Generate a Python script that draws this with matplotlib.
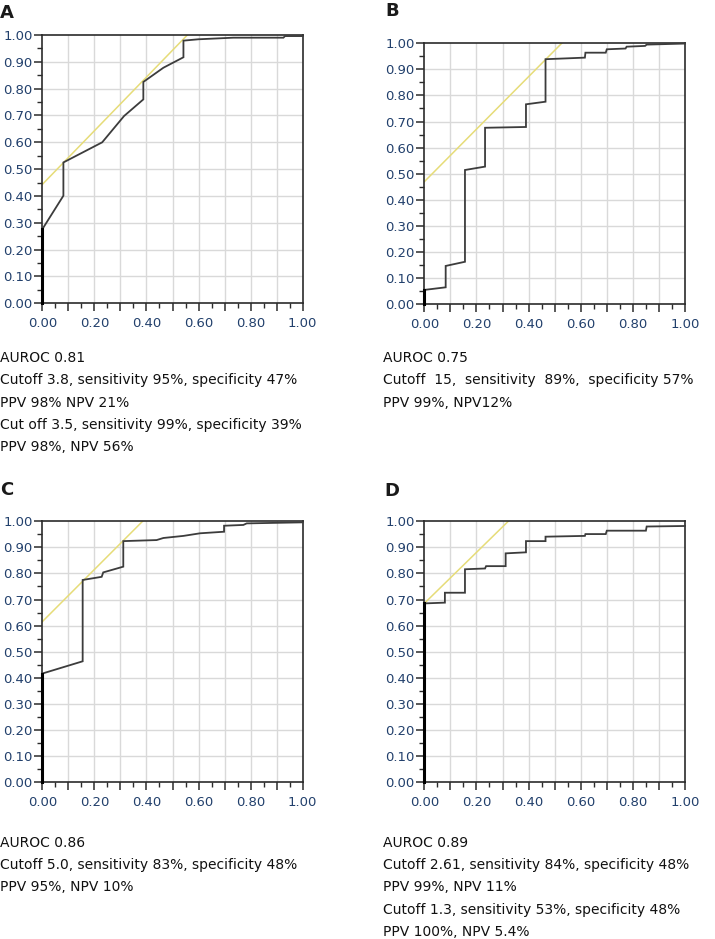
import matplotlib
matplotlib.use("Agg")
import matplotlib.pyplot as plt
from matplotlib.ticker import MultipleLocator

W, H = 715, 939

# --- ROC curves (1 - specificity, sensitivity) ------------------------------
fpr_a = [0.0, 0.0, 0.081, 0.081, 0.230, 0.314, 0.388, 0.388, 0.465, 0.542, 0.542, 0.599, 0.734, 0.926, 0.932, 1.0]
tpr_a = [0.0, 0.276, 0.401, 0.525, 0.600, 0.698, 0.760, 0.825, 0.878, 0.917, 0.979, 0.984, 0.990, 0.990, 0.996, 0.996]

fpr_b = [0.0, 0.0, 0.082, 0.082, 0.156, 0.156, 0.233, 0.233, 0.390, 0.390, 0.465, 0.465,
         0.616, 0.618, 0.696, 0.700, 0.772, 0.776, 0.847, 0.853, 1.0]
tpr_b = [0.0, 0.054, 0.064, 0.146, 0.162, 0.514, 0.527, 0.676, 0.679, 0.766, 0.776, 0.939,
         0.945, 0.964, 0.964, 0.977, 0.980, 0.987, 0.990, 0.995, 0.999]

fpr_c = [0.0, 0.0, 0.155, 0.155, 0.228, 0.234, 0.311, 0.311, 0.439, 0.465, 0.542, 0.606,
         0.698, 0.698, 0.772, 0.785, 1.0]
tpr_c = [0.0, 0.416, 0.463, 0.775, 0.787, 0.804, 0.826, 0.924, 0.928, 0.936, 0.944, 0.954,
         0.960, 0.983, 0.986, 0.992, 0.996]

fpr_d = [0.0, 0.0, 0.079, 0.079, 0.156, 0.156, 0.233, 0.237, 0.312, 0.312, 0.390, 0.390,
         0.465, 0.465, 0.616, 0.618, 0.696, 0.700, 0.850, 0.853, 1.0]
tpr_d = [0.0, 0.685, 0.688, 0.726, 0.726, 0.816, 0.819, 0.828, 0.828, 0.877, 0.881, 0.924,
         0.924, 0.941, 0.944, 0.951, 0.951, 0.964, 0.964, 0.980, 0.982]

# Youden tangent lines (yellow): x and y end points
tan_a = ([0.0, 0.557], [0.443, 1.0])
tan_b = ([0.0, 0.527], [0.469, 1.0])
tan_c = ([0.0, 0.385], [0.615, 1.0])
tan_d = ([0.0, 0.322], [0.685, 1.0])

notes_a = ["AUROC 0.81",
           "Cutoff 3.8, sensitivity 95%, specificity 47%",
           "PPV 98% NPV 21%",
           "Cut off 3.5, sensitivity 99%, specificity 39%",
           "PPV 98%, NPV 56%"]
notes_b = ["AUROC 0.75",
           "Cutoff  15,  sensitivity  89%,  specificity 57%",
           "PPV 99%, NPV12%"]
notes_c = ["AUROC 0.86",
           "Cutoff 5.0, sensitivity 83%, specificity 48%",
           "PPV 95%, NPV 10%"]
notes_d = ["AUROC 0.89",
           "Cutoff 2.61, sensitivity 84%, specificity 48%",
           "PPV 99%, NPV 11%",
           "Cutoff 1.3, sensitivity 53%, specificity 48%",
           "PPV 100%, NPV 5.4%"]

grid_ticks = [0.0, 0.1, 0.2, 0.3, 0.4, 0.5, 0.6, 0.7, 0.8, 0.9, 1.0]
x_ticklabels = ["0.00", "", "0.20", "", "0.40", "", "0.60", "", "0.80", "", "1.00"]
y_ticklabels = ["%.2f" % v for v in grid_ticks]

CURVE = "#3c3c3c"
YELLOW = "#e6dc78"
GRID = "#d9d9d9"
SPINE = "#2b2b2b"
TICKTXT = "#22406c"


def px_rect(left, top, right, bottom):
    return [left / W, 1 - bottom / H, (right - left) / W, (bottom - top) / H]


def draw_panel(fig, rect, fpr, tpr, tan):
    ax = fig.add_axes(rect)
    ax.set_xlim(0, 1)
    ax.set_ylim(0, 1)

    # grid every 0.1
    for v in grid_ticks[1:-1]:
        ax.axhline(v, color=GRID, lw=1.0, zorder=0)
        ax.axvline(v, color=GRID, lw=1.0, zorder=0)

    ax.plot(tan[0], tan[1], color=YELLOW, lw=1.1, zorder=2)
    ax.plot(fpr, tpr, color=CURVE, lw=1.3, zorder=3, clip_on=False,
            solid_joinstyle="miter")
    ax.plot([0, 0], [0, tpr[1]], color="black", lw=2.2, zorder=4, clip_on=False)

    ax.set_xticks(grid_ticks)
    ax.set_xticklabels(x_ticklabels)
    ax.xaxis.set_minor_locator(MultipleLocator(0.05))
    ax.set_yticks(grid_ticks)
    ax.set_yticklabels(y_ticklabels)
    ax.yaxis.set_minor_locator(MultipleLocator(0.05))

    ax.tick_params(axis="both", which="major", length=6, width=1.1, color=SPINE,
                   labelsize=9.5, labelcolor=TICKTXT)
    ax.tick_params(axis="x", which="major", pad=4)
    ax.tick_params(axis="y", which="major", pad=1)
    ax.tick_params(axis="both", which="minor", length=3.5, width=1.0, color=SPINE)
    for s in ax.spines.values():
        s.set_color(SPINE)
        s.set_linewidth(1.2)
    return ax


def write_notes(fig, x, y0, lines, step=22.3):
    for i, line in enumerate(lines):
        fig.text(x / W, 1 - (y0 + i * step) / H, line, fontsize=10,
                 color="#111111", ha="left", va="center")


fig = plt.figure(figsize=(W / 100, H / 100), dpi=100)
fig.patch.set_facecolor("white")

draw_panel(fig, px_rect(42.3, 35, 302.7, 303.3), fpr_a, tpr_a, tan_a)
draw_panel(fig, px_rect(424.3, 43.3, 685, 304), fpr_b, tpr_b, tan_b)
draw_panel(fig, px_rect(42.3, 521.3, 302.7, 782), fpr_c, tpr_c, tan_c)
draw_panel(fig, px_rect(424.3, 521.3, 685, 782), fpr_d, tpr_d, tan_d)

for lab, x, y in [("A", 0, 13.5), ("B", 385, 11.5), ("C", 0, 490.5), ("D", 384, 491.5)]:
    fig.text(x / W, 1 - y / H, lab, fontsize=13, fontweight="bold",
             color="#1a1a1a", ha="left", va="center")

write_notes(fig, 0, 358, notes_a)
write_notes(fig, 383, 358, notes_b)
write_notes(fig, 0, 842.7, notes_c)
write_notes(fig, 383, 842.7, notes_d)

fig.savefig("out.png", dpi=100)
